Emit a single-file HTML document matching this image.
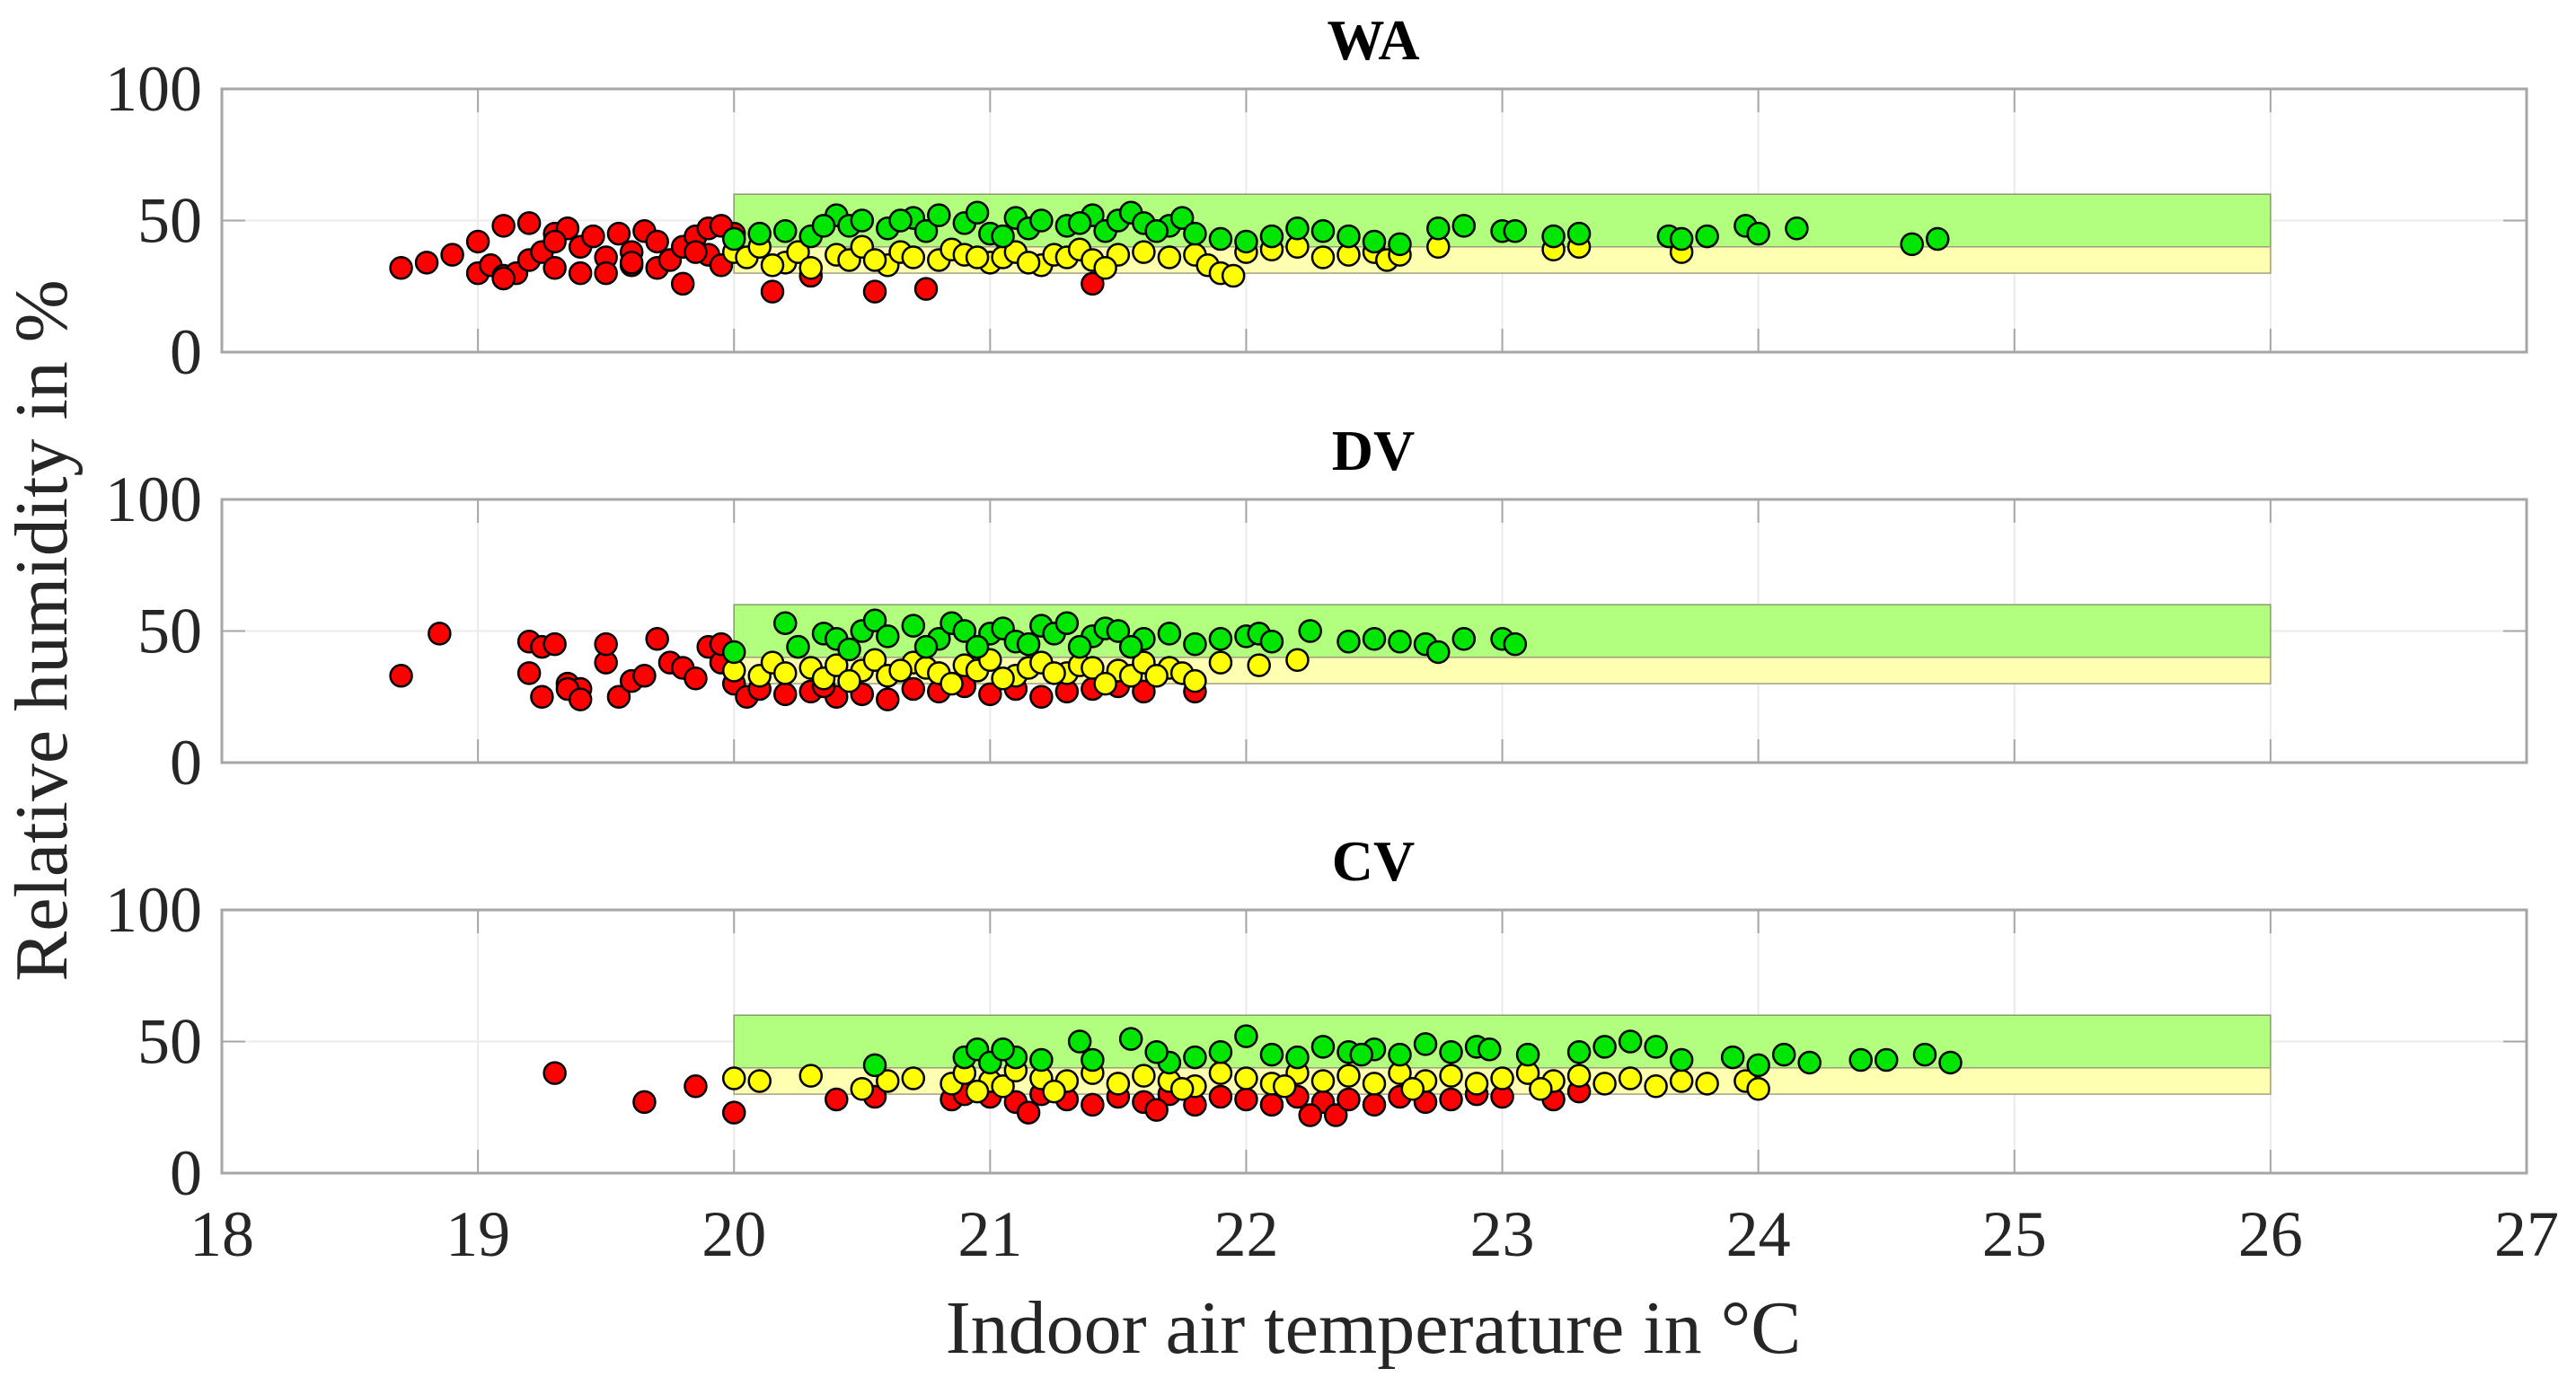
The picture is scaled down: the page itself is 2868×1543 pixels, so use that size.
<!DOCTYPE html>
<html><head><meta charset="utf-8"><style>
html,body{margin:0;padding:0;background:#fff;}
svg{display:block;font-family:"Liberation Serif",serif;}
</style></head><body>
<svg id="chart" width="2868" height="1543" viewBox="0 0 2868 1543" xmlns="http://www.w3.org/2000/svg">
<text x="0" y="0" transform="translate(74,702) rotate(-90)" text-anchor="middle" font-size="84" fill="#262626">Relative humidity in %</text>
<text x="1529" y="1506" text-anchor="middle" font-size="84" fill="#262626">Indoor air temperature in °C</text>
</svg>
<script>
const panelNames = ["WA","DV","CV"];
const xTicks = [18,19,20,21,22,23,24,25,26,27];
const yTicks = [0,50,100];
const zoneX = [20,26];
const greenZone = [40,60];
const yellowZone = [30,40];

const waRedX = [18.7,18.8,18.9,19.0,19.0,19.05,19.1,19.1,19.15,19.2,19.2,19.25,19.3,19.3,19.35,19.4,19.4,19.45,19.5,19.5,19.55,19.6,19.6,19.65,19.7,19.7,19.75,19.8,19.8,19.85,19.9,19.9,19.95,20.0,19.95,19.85,19.6,19.3,19.1,20.15,20.55,20.75,21.4,20.3];
const waRedY = [32,34,37,30,42,33,48,29,30,49,35,38,45,32,47,40,30,44,36,30,45,38,33,46,42,32,35,40,26,44,37,47,33,45,48,38,34,42,28,23,23,24,26,29];
const waYelX = [20.0,20.05,20.1,20.2,20.25,20.3,20.4,20.45,20.5,20.6,20.65,20.7,20.8,20.85,20.9,21.0,21.05,21.1,21.2,21.25,21.3,21.35,21.4,21.5,21.6,21.7,21.8,21.85,21.9,22.0,22.1,22.2,22.3,22.4,22.5,22.55,22.6,22.75,23.2,23.3,23.7,20.15,20.55,20.95,21.15,21.45,21.95];
const waYelY = [38,36,40,34,38,32,37,35,40,33,38,36,35,39,37,34,36,38,33,37,36,39,35,37,38,36,37,33,30,38,39,40,36,37,38,35,37,40,39,40,38,33,35,36,34,32,29];
const waGrnX = [20.0,20.1,20.2,20.3,20.4,20.45,20.5,20.6,20.7,20.75,20.8,20.9,20.95,21.0,21.1,21.15,21.2,21.3,21.4,21.45,21.5,21.55,21.6,21.7,21.75,21.8,21.9,22.0,22.1,22.2,22.3,22.4,22.5,22.6,22.75,22.85,23.0,23.05,23.2,23.3,23.65,23.7,23.8,23.95,24.0,24.15,24.6,24.7,20.35,20.65,21.05,21.35,21.65];
const waGrnY = [43,45,46,44,52,48,50,47,51,46,52,49,53,45,51,47,50,48,52,46,50,53,49,48,51,45,43,42,44,47,46,44,42,41,47,48,46,46,44,45,44,43,44,48,45,47,41,43,48,50,44,49,46];

const dvRedX = [18.7,18.85,19.2,19.25,19.3,19.35,19.4,19.2,19.25,19.35,19.4,19.5,19.5,19.55,19.6,19.7,19.75,19.8,19.85,19.9,19.95,20.0,20.05,20.1,20.2,20.3,20.4,20.5,20.6,20.7,20.8,20.9,21.0,21.1,21.2,21.3,21.4,21.5,21.6,21.8,19.65,19.95,20.35];
const dvRedY = [33,49,46,44,45,30,28,34,25,28,24,38,45,25,31,47,38,36,32,44,38,30,25,28,26,27,25,26,24,28,27,29,26,28,25,27,28,29,27,27,33,45,29];
const dvYelX = [20.0,20.1,20.15,20.2,20.3,20.35,20.4,20.5,20.55,20.6,20.7,20.75,20.8,20.9,20.95,21.0,21.1,21.15,21.2,21.3,21.35,21.4,21.5,21.55,21.6,21.7,21.75,21.8,21.9,22.05,22.2,20.45,20.65,20.85,21.05,21.25,21.45,21.65];
const dvYelY = [35,33,38,34,36,32,37,35,39,33,38,36,34,37,35,39,33,36,38,34,37,36,35,33,38,36,34,31,38,37,39,31,35,30,32,34,30,33];
const dvGrnX = [20.0,20.2,20.25,20.35,20.4,20.5,20.55,20.6,20.7,20.8,20.85,20.9,21.0,21.05,21.1,21.2,21.25,21.3,21.4,21.45,21.5,21.6,21.7,21.8,21.9,22.0,22.05,22.1,22.25,22.4,22.5,22.6,22.7,22.75,22.85,23.0,23.05,20.45,20.75,20.95,21.15,21.35,21.55];
const dvGrnY = [42,53,44,49,47,50,54,48,52,47,53,50,49,51,46,52,49,53,48,51,50,47,49,45,47,48,49,46,50,46,47,46,45,42,47,47,45,43,44,44,45,44,44];

const cvRedX = [19.3,19.65,19.85,20.0,20.4,20.55,20.85,20.9,21.0,21.1,21.2,21.3,21.4,21.5,21.6,21.7,21.8,21.9,22.0,22.1,22.2,22.3,22.35,22.4,22.5,22.6,22.7,22.8,22.9,23.0,23.2,23.3,21.15,21.65,22.25];
const cvRedY = [38,27,33,23,28,29,28,30,29,27,30,28,26,29,27,30,26,29,28,26,29,27,22,28,26,29,27,28,30,29,28,31,23,24,22];
const cvYelX = [20.0,20.1,20.3,20.5,20.6,20.7,20.85,20.9,21.0,21.05,21.1,21.2,21.3,21.4,21.5,21.6,21.7,21.8,21.9,22.0,22.1,22.2,22.3,22.4,22.5,22.6,22.7,22.8,22.9,23.0,23.1,23.2,23.3,23.4,23.5,23.6,23.7,23.8,23.95,24.0,20.95,21.25,21.75,22.15,22.65,23.15];
const cvYelY = [36,35,37,32,35,36,34,38,35,33,39,36,35,38,34,37,35,33,38,36,34,38,35,37,34,38,35,37,34,36,38,35,37,34,36,33,35,34,35,32,31,31,32,33,32,32];
const cvGrnX = [20.55,20.9,20.95,21.0,21.1,21.2,21.35,21.4,21.55,21.7,21.8,21.9,22.0,22.1,22.2,22.3,22.4,22.5,22.6,22.7,22.8,22.9,22.95,23.1,23.3,23.4,23.5,23.6,23.7,23.9,24.0,24.1,24.2,24.4,24.5,24.65,24.75,21.05,21.65,22.45];
const cvGrnY = [41,44,47,42,44,43,50,43,51,42,44,46,52,45,44,48,46,47,45,49,46,48,47,45,46,48,50,48,43,44,41,45,42,43,43,45,42,47,46,45];

const NS = "http://www.w3.org/2000/svg";
const svg = document.getElementById("chart");
const L = 247, R = 2813, PH = 293;
const tops = [99, 556, 1013];
const xs = v => L + (v - 18) / 9 * (R - L);
function mk(tag, attrs, parent) {
  const e = document.createElementNS(NS, tag);
  for (const k in attrs) e.setAttribute(k, attrs[k]);
  (parent || svg).appendChild(e);
  return e;
}
const series = [
  [[waRedX,waRedY,"#ff0000","red"],[waYelX,waYelY,"#ffff00","yellow"],[waGrnX,waGrnY,"#00e600","green"]],
  [[dvRedX,dvRedY,"#ff0000","red"],[dvYelX,dvYelY,"#ffff00","yellow"],[dvGrnX,dvGrnY,"#00e600","green"]],
  [[cvRedX,cvRedY,"#ff0000","red"],[cvYelX,cvYelY,"#ffff00","yellow"],[cvGrnX,cvGrnY,"#00e600","green"]]
];
panelNames.forEach((nm, p) => {
  const T = tops[p], B = T + PH;
  const ys = v => B - v / 100 * PH;
  const g = mk("g", {});
  
  
  const t = mk("text", {x: 1529, y: T - 33, "text-anchor": "middle", "font-size": 64, "font-weight": "bold", fill: "#000"}, g);
  t.textContent = nm;
  
  
  xTicks.forEach(v => {
    const gl = mk("line", {x1: xs(v), x2: xs(v), y1: T, y2: B, stroke: "#ebebeb", "stroke-width": 2}, g);
    
    
  });
  yTicks.forEach(v => {
    const gl = mk("line", {x1: L, x2: R, y1: ys(v), y2: ys(v), stroke: "#ebebeb", "stroke-width": 2}, g);
    
    
    const lb = mk("text", {x: 225, y: ys(v) + 24, "text-anchor": "end", "font-size": 72, fill: "#262626"}, g);
    lb.textContent = v;
    
    
  });
  const gz = mk("rect", {x: xs(zoneX[0]), y: ys(greenZone[1]), width: xs(zoneX[1]) - xs(zoneX[0]), height: ys(greenZone[0]) - ys(greenZone[1]), fill: "#b2ff7f", stroke: "#8a9a70", "stroke-width": 1.5}, g);
  
  
  const yz = mk("rect", {x: xs(zoneX[0]), y: ys(yellowZone[1]), width: xs(zoneX[1]) - xs(zoneX[0]), height: ys(yellowZone[0]) - ys(yellowZone[1]), fill: "#ffffb2", stroke: "#a0a080", "stroke-width": 1.5}, g);
  
  
  series[p].forEach(([X, Y, col, cname]) => {
    X.forEach((xv, i) => {
      const c = mk("circle", {cx: xs(xv), cy: ys(Y[i]), r: 12, fill: col, stroke: "#000", "stroke-width": 2.5}, g);
      
      
    });
  });
  const box = mk("rect", {x: L, y: T, width: R - L, height: PH, fill: "none", stroke: "#a6a6a6", "stroke-width": 3}, g);
  
  
  xTicks.forEach(v => {
    mk("line", {x1: xs(v), x2: xs(v), y1: B, y2: B - 26, stroke: "#a6a6a6", "stroke-width": 2}, g);
    mk("line", {x1: xs(v), x2: xs(v), y1: T, y2: T + 26, stroke: "#a6a6a6", "stroke-width": 2}, g);
  });
  yTicks.forEach(v => {
    mk("line", {x1: L, x2: L + 26, y1: ys(v), y2: ys(v), stroke: "#a6a6a6", "stroke-width": 2}, g);
    mk("line", {x1: R, x2: R - 26, y1: ys(v), y2: ys(v), stroke: "#a6a6a6", "stroke-width": 2}, g);
  });
});
xTicks.forEach(v => {
  const lb = mk("text", {x: xs(v), y: 1398, "text-anchor": "middle", "font-size": 72, fill: "#262626"});
  lb.textContent = v;
  
  
});
</script>
</body></html>
